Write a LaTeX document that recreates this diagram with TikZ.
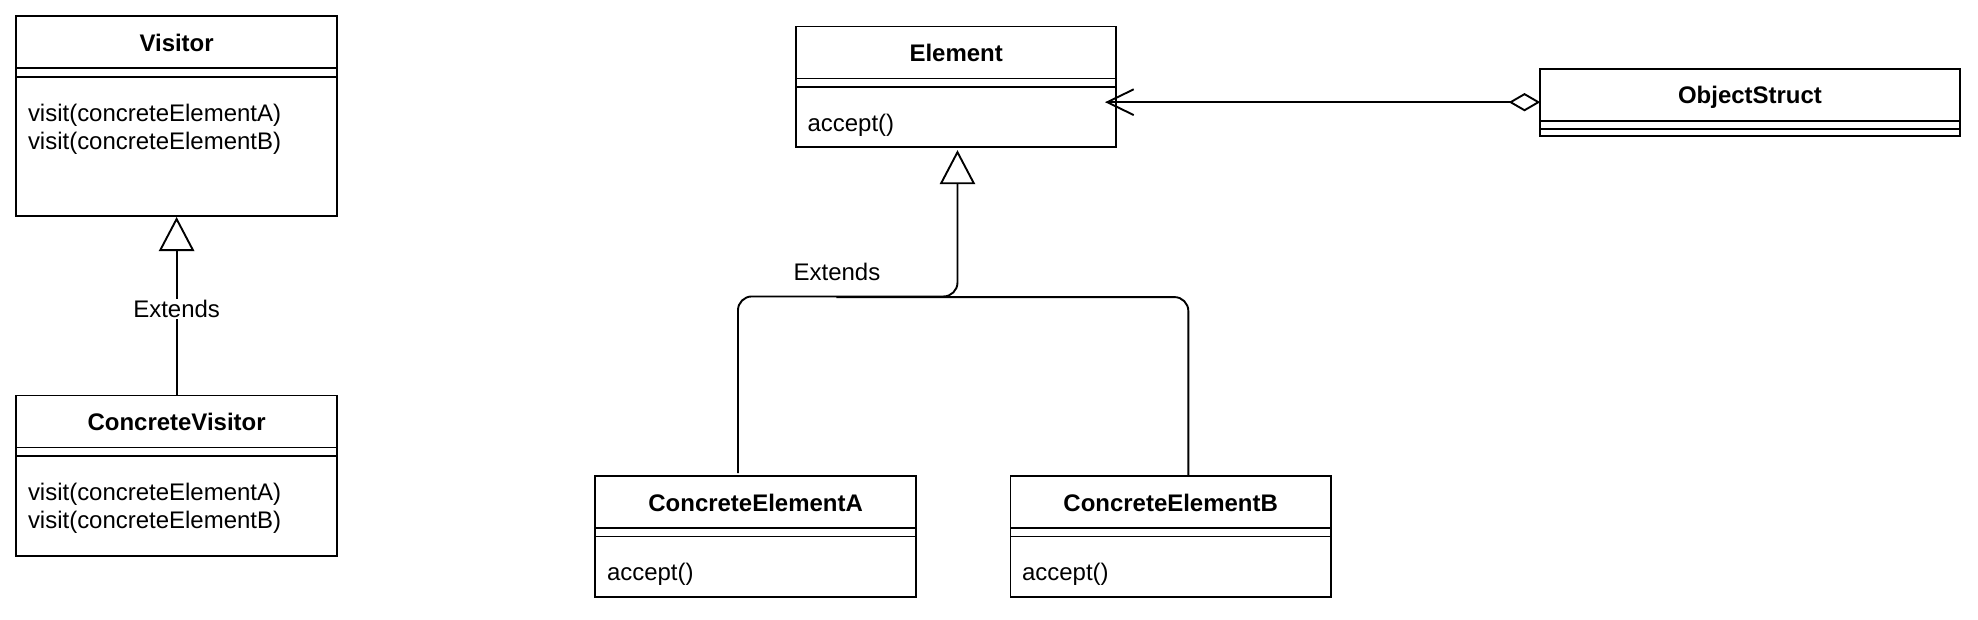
\documentclass[tikz,border=0pt]{standalone}
\usepackage{fontspec}
\setmainfont{Liberation Sans}
\usetikzlibrary{arrows.meta,calc}
\newcommand\umlfont{\fontsize{19pt}{22.4pt}\selectfont}
\tikzset{
  uml/.style={draw, line width=1.5pt, anchor=north west, inner sep=0pt, outer sep=0pt},
  ttl/.style={font=\umlfont\bfseries, anchor=base, inner sep=0pt},
  meth/.style={font=\umlfont, anchor=north west, align=left, inner sep=0pt},
  lab/.style={font=\umlfont, fill=white, inner sep=1pt},
  conn/.style={line width=1.5pt},
  inh/.style={conn, -{Triangle[open, length=27pt, width=28pt]}},
}
% #1 name, #2 x, #3 y, #4 width, #5 height, #6 title, #7 methods
\newcommand\umlcls[7]{%
  \node[uml, minimum width=#4pt, minimum height=#5pt] (#1) at (#2,#3) {};
  \node[ttl] (#1t) at ([yshift=-27.6pt]#1.north) {#6};
  \draw[conn] ([yshift=-41.2pt]#1.north west) -- ([yshift=-41.2pt]#1.north east);
  \draw[conn] ([yshift=-47.8pt]#1.north west) -- ([yshift=-47.8pt]#1.north east);
  \node[meth] (#1m) at ([xshift=9pt, yshift=-67.8pt]#1.north west) {\rule{0pt}{15pt}#7};
}
\begin{document}
\begin{tikzpicture}[x=1pt, y=-1pt, font=\umlfont]
\useasboundingbox (0,0) rectangle (1568,490.7);
\umlcls{visitor}{13}{13}{254}{158}{Visitor}{visit(concreteElementA)\\visit(concreteElementB)}
\umlcls{cvisitor}{13}{313.5}{254}{127}{ConcreteVisitor}{visit(concreteElementA)\\visit(concreteElementB)}
\umlcls{element}{631}{21}{254}{95.5}{Element}{accept()}
\umlcls{cea}{472}{377.5}{254}{95.5}{ConcreteElementA}{accept()}
\umlcls{ceb}{801}{377.5}{254}{95.5}{ConcreteElementB}{accept()}
\umlcls{objs}{1221}{54.5}{332.5}{53.5}{ObjectStruct}{}

% Visitor inheritance
\draw[inh] (cvisitor.north) -- node[lab, pos=0.486] (extv) {Extends} ([yshift=-1pt]visitor.south);

% Element inheritance
\coordinate (junc) at (759,235);
\coordinate (bend) at (663,235.5);
\draw[inh, rounded corners=11pt] ([xshift=113pt, yshift=2.5pt]cea.north west) |- (junc) -- ([xshift=1pt, yshift=-2.5pt]element.south);
\draw[conn, rounded corners=11pt] ([xshift=141pt]ceb.north west) |- (bend);
\node (exte) at (663.5,215.4) {Extends};

% aggregation
\coordinate (agtip) at (876,81);
\draw[conn, {Diamond[open, length=25pt, width=14.5pt]}-{Straight Barb[length=21pt, width=20.4pt]}] (objs.west |- 0,81) -- (agtip);
\end{tikzpicture}
\end{document}
